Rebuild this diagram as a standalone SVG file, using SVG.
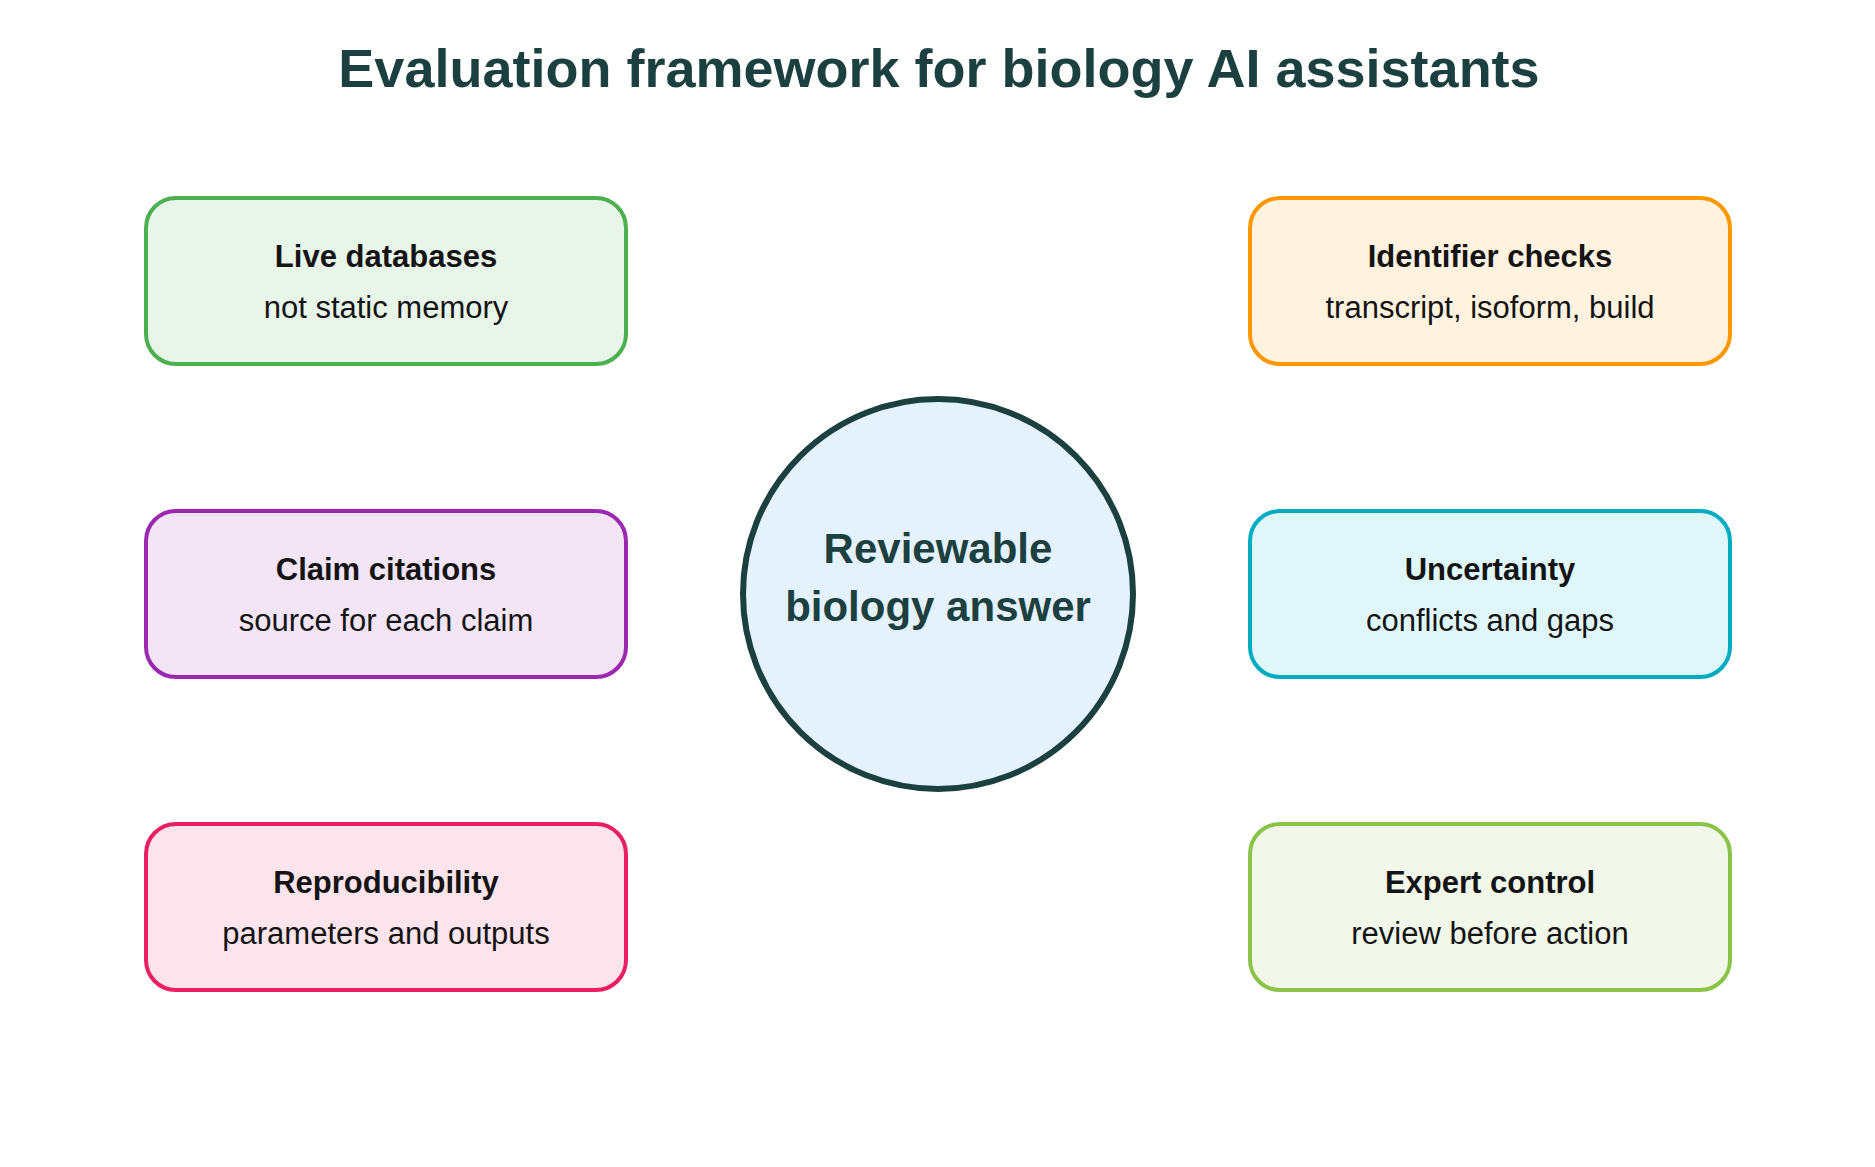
<svg xmlns="http://www.w3.org/2000/svg" width="1875" height="1167" viewBox="0 0 1875 1167">
<style>
text{font-family:"Liberation Sans",Arial,sans-serif;text-anchor:middle}
.title{font-size:54px;font-weight:bold;fill:#1c3f3f}
.hub{font-size:42px;font-weight:bold;fill:#1c3f3f}
.h{font-size:31px;font-weight:bold;fill:#141414}
.s{font-size:31px;fill:#141414}
.box{stroke-width:4}
</style>
<rect width="1875" height="1167" fill="#ffffff"/>
<text class="title" x="939" y="87">Evaluation framework for biology AI assistants</text>
<g id="connectors"></g>
<g id="hub">
<circle cx="938" cy="594" r="195" fill="#e3f2fd" stroke="#1c3f3f" stroke-width="6"/>
<text class="hub" x="938" y="563">Reviewable</text>
<text class="hub" x="938" y="621">biology answer</text>
</g>
<g id="live-databases">
<rect class="box" x="146" y="198" width="480" height="166" rx="30" fill="#e8f5e9" stroke="#4caf50"/>
<text class="h" x="386" y="267">Live databases</text>
<text class="s" x="386" y="318">not static memory</text>
</g>
<g id="identifier-checks">
<rect class="box" x="1250" y="198" width="480" height="166" rx="30" fill="#fff3e0" stroke="#ff9800"/>
<text class="h" x="1490" y="267">Identifier checks</text>
<text class="s" x="1490" y="318">transcript, isoform, build</text>
</g>
<g id="claim-citations">
<rect class="box" x="146" y="511" width="480" height="166" rx="30" fill="#f3e5f5" stroke="#9c27b0"/>
<text class="h" x="386" y="580">Claim citations</text>
<text class="s" x="386" y="631">source for each claim</text>
</g>
<g id="uncertainty">
<rect class="box" x="1250" y="511" width="480" height="166" rx="30" fill="#e0f7fa" stroke="#00acc1"/>
<text class="h" x="1490" y="580">Uncertainty</text>
<text class="s" x="1490" y="631">conflicts and gaps</text>
</g>
<g id="reproducibility">
<rect class="box" x="146" y="824" width="480" height="166" rx="30" fill="#fce4ec" stroke="#e91e63"/>
<text class="h" x="386" y="893">Reproducibility</text>
<text class="s" x="386" y="944">parameters and outputs</text>
</g>
<g id="expert-control">
<rect class="box" x="1250" y="824" width="480" height="166" rx="30" fill="#f1f8e9" stroke="#8bc34a"/>
<text class="h" x="1490" y="893">Expert control</text>
<text class="s" x="1490" y="944">review before action</text>
</g>
</svg>
